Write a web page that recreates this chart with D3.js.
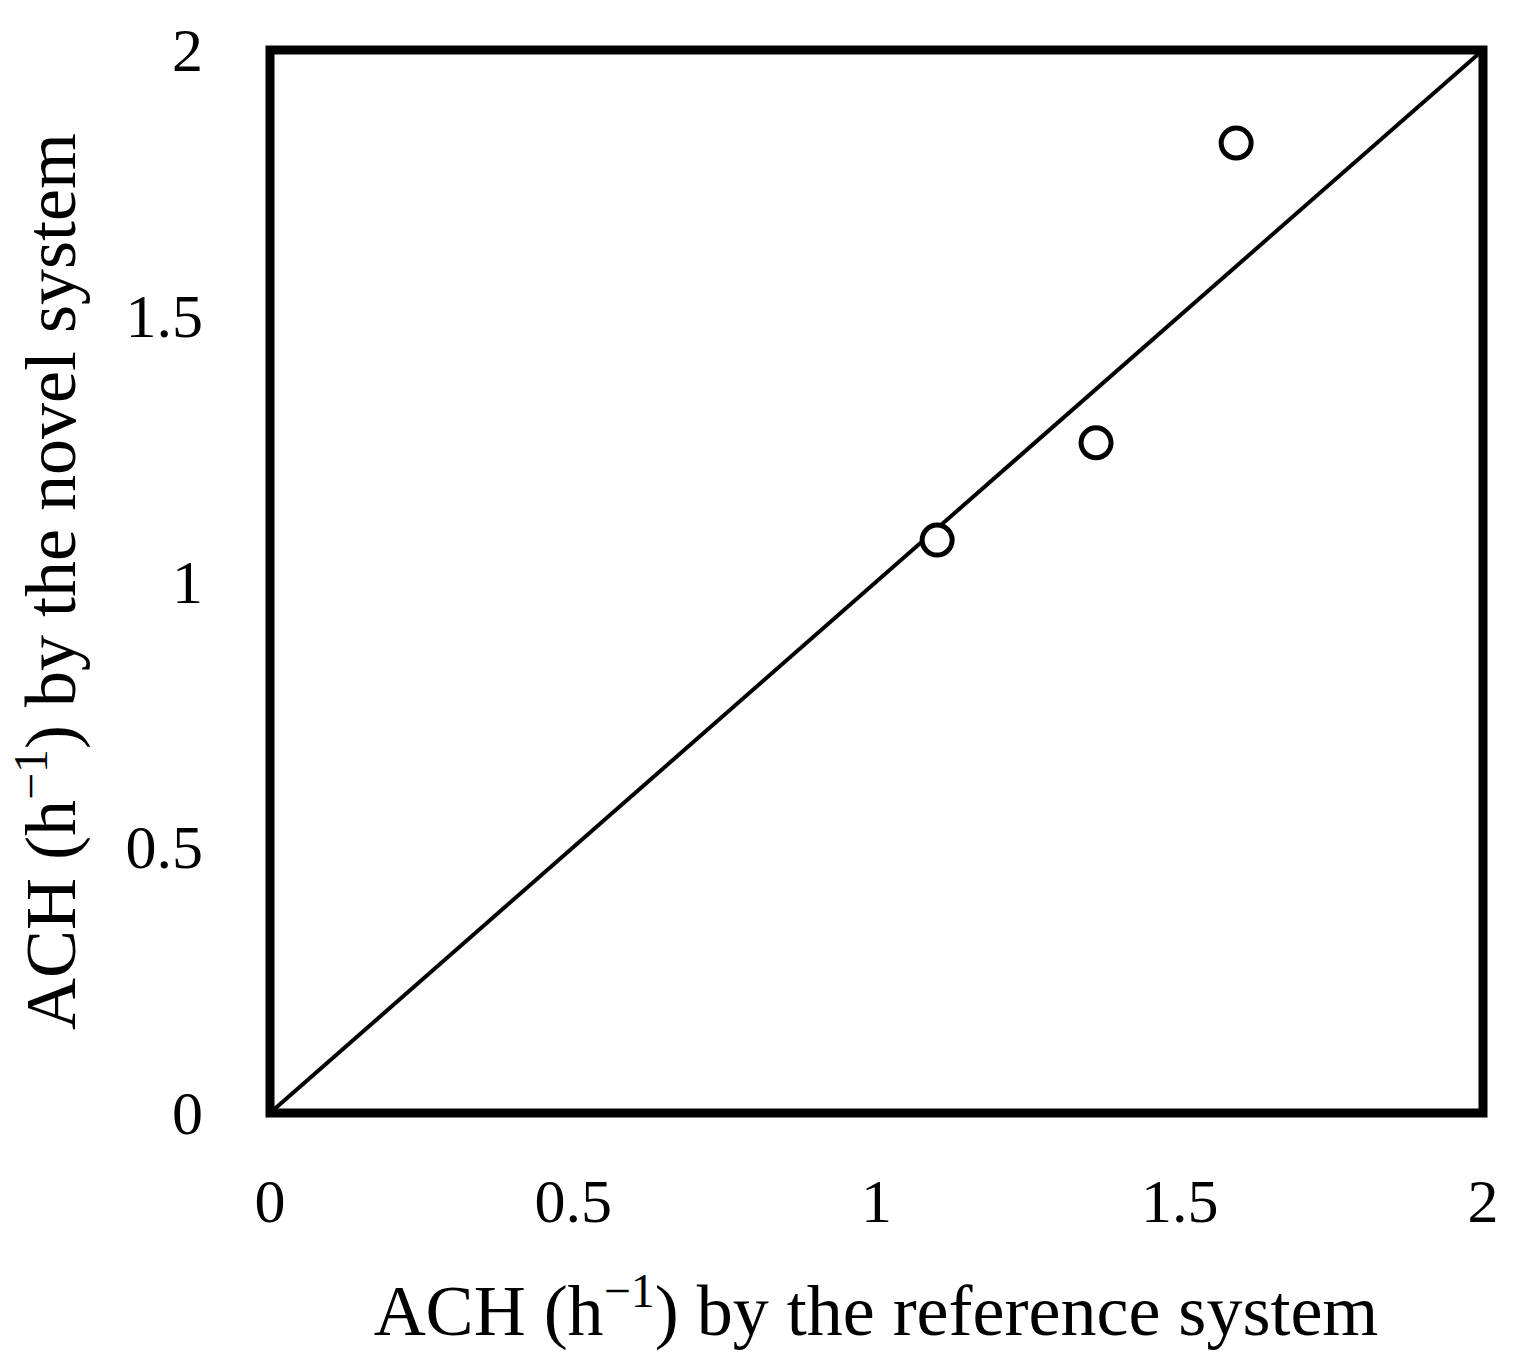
<!DOCTYPE html>
<html><head><meta charset="utf-8">
<script src="https://cdn.jsdelivr.net/npm/d3@7"></script>
<style>body{margin:0;background:#fff}</style>
</head><body>
<svg id="chart" width="1515" height="1371"></svg>
<script>
// measured points (reference vs novel)
var refACH = [1.10, 1.362, 1.593];
var novelACH = [1.078, 1.261, 1.825];
var tickValues = [0, 0.5, 1, 1.5, 2];
var lineX = [0, 2];

var svg = d3.select('#chart');
var mLeft = 270, mRight = 1483, mTop = 50, mBottom = 1113;
var x = d3.scaleLinear().domain([0, 2]).range([mLeft, mRight]);
var y = d3.scaleLinear().domain([0, 2]).range([mBottom, mTop]);
var font = 'Liberation Serif, Times New Roman, serif';

svg.append('rect')
  .attr('x', mLeft).attr('y', mTop)
  .attr('width', mRight - mLeft).attr('height', mBottom - mTop)
  .attr('fill', 'none').attr('stroke', '#000').attr('stroke-width', 9);

svg.append('path')
  .datum(lineX)
  .attr('d', d3.line().x(function(d) { return x(d); }).y(function(d) { return y(d); }))
  .attr('stroke', '#000').attr('stroke-width', 4).attr('fill', 'none');

svg.selectAll('circle.pt').data(refACH).enter().append('circle')
  .attr('cx', function(d) { return x(d); })
  .attr('cy', function(d, i) { return y(novelACH[i]); })
  .attr('r', 15).attr('fill', '#fff').attr('stroke', '#000').attr('stroke-width', 5);

svg.selectAll('text.xt').data(tickValues).enter().append('text')
  .attr('x', function(d) { return x(d); }).attr('y', 1222)
  .attr('text-anchor', 'middle').attr('font-family', font).attr('font-size', 62)
  .text(function(d) { return d; });

svg.selectAll('text.yt').data(tickValues).enter().append('text')
  .attr('x', 203).attr('y', function(d) { return y(d) + 21; })
  .attr('text-anchor', 'end').attr('font-family', font).attr('font-size', 62)
  .text(function(d) { return d; });

var xl = svg.append('text').attr('x', 876).attr('y', 1335)
  .attr('text-anchor', 'middle').attr('font-family', font).attr('font-size', 72);
xl.append('tspan').text('ACH (h');
xl.append('tspan').attr('dy', -28).attr('font-size', 48).text('\u22121');
xl.append('tspan').attr('dy', 28).text(') by the reference system');

var yl = svg.append('text').attr('transform', 'translate(75,' + (mTop + mBottom) / 2 + ') rotate(-90)')
  .attr('text-anchor', 'middle').attr('font-family', font).attr('font-size', 72);
yl.append('tspan').text('ACH (h');
yl.append('tspan').attr('dy', -28).attr('font-size', 48).text('\u22121');
yl.append('tspan').attr('dy', 28).text(') by the novel system');
</script>
</body></html>
